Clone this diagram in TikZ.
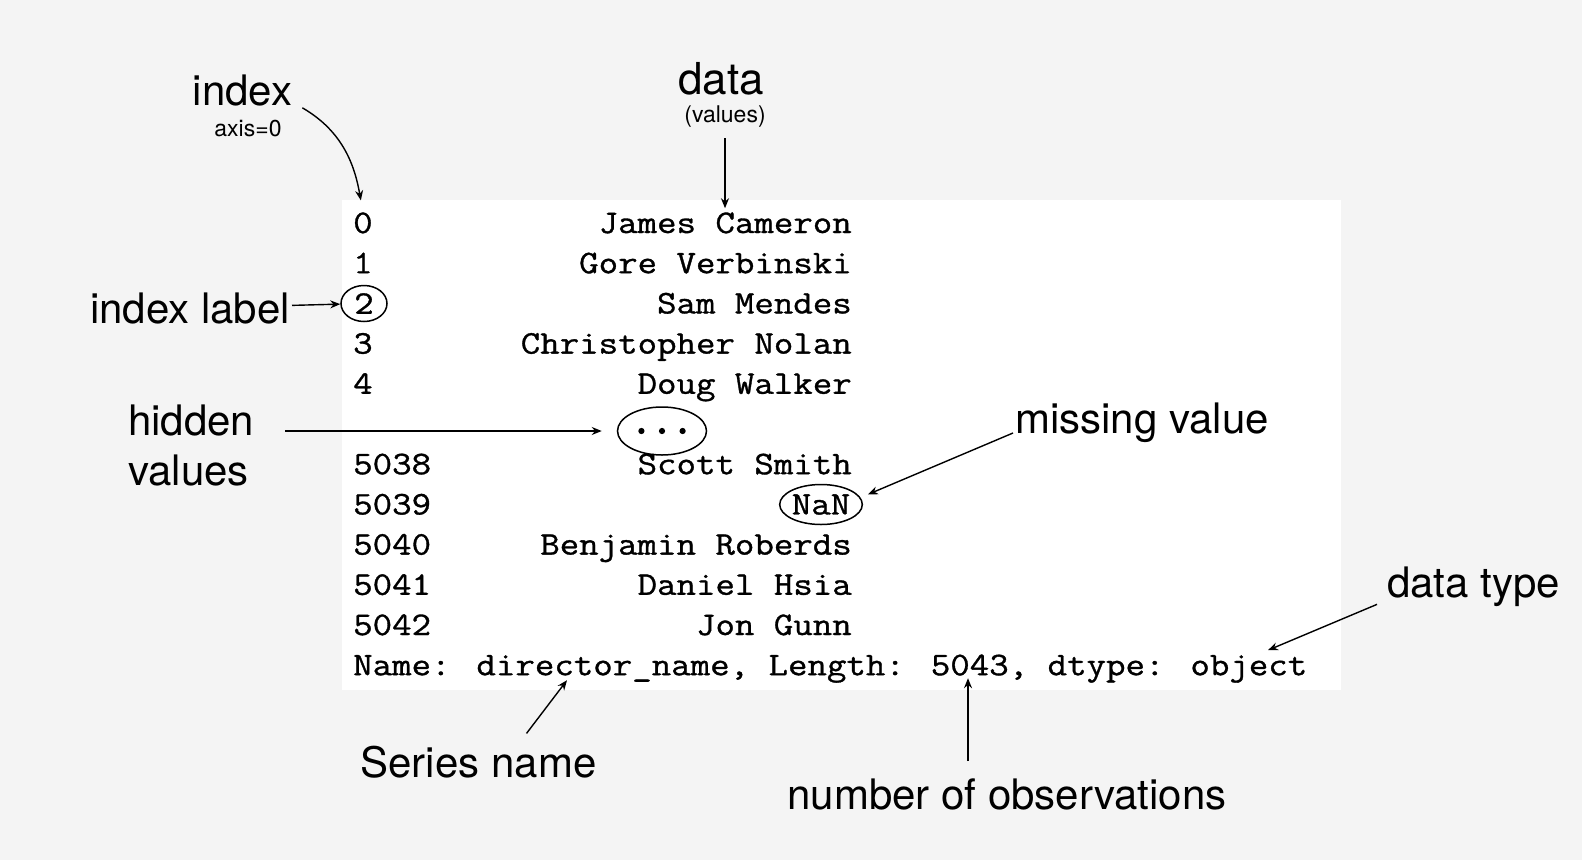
\documentclass[tikz,border=0pt]{standalone}
\usepackage{fontspec}
\setsansfont{TeX Gyre Heros}
\newfontfamily\codefont{Latin Modern Mono}[FakeStretch=1.1457,FakeBold=1]
\newfontfamily\dotfont{Latin Modern Mono}[FakeBold=4]
\usepackage{tikz}
\usetikzlibrary{arrows.meta,positioning,shapes.geometric}
\definecolor{pagegrey}{HTML}{F4F4F4}
\tikzstyle{codetxt}=[font=\fontsize{33}{40}\selectfont\codefont,inner sep=0pt]
\tikzstyle{lbl}=[font=\fontsize{42}{50}\selectfont\sffamily,inner sep=2pt]
\tikzstyle{sublbl}=[font=\fontsize{23}{26}\selectfont\sffamily,inner sep=2pt]
\tikzstyle{ring}=[draw,ellipse,line width=1.5pt]
\tikzstyle{every edge}=[draw,line width=1.4pt,>={Stealth[length=10pt,width=8pt]}]

\begin{document}
\begin{tikzpicture}[x=1pt,y=-1pt]
  \useasboundingbox (0,0) rectangle (1582,860);
  \fill[pagegrey] (0,0) rectangle (1582,860);
  \fill[white] (342,200) rectangle (1341,690);

  % index column
  \node[codetxt,anchor=base west] (i0) at (353,233) {0};
  \node[codetxt,anchor=base west] (i1) at (353,273.2) {1};
  \node[codetxt,ring,minimum width=46pt,minimum height=36pt] (i2) at (364,303.5) {2};
  \node[codetxt,anchor=base west] (i3) at (353,353.6) {3};
  \node[codetxt,anchor=base west] (i4) at (353,393.8) {4};
  \node[codetxt,anchor=base west] (i5038) at (353,474.2) {5038};
  \node[codetxt,anchor=base west] (i5039) at (353,514.4) {5039};
  \node[codetxt,anchor=base west] (i5040) at (353,554.6) {5040};
  \node[codetxt,anchor=base west] (i5041) at (353,594.8) {5041};
  \node[codetxt,anchor=base west] (i5042) at (353,635) {5042};

  % values column
  \node[codetxt,anchor=base east] (v0) at (852,233) {James Cameron};
  \node[codetxt,anchor=base east] (v1) at (852,273.2) {Gore Verbinski};
  \node[codetxt,anchor=base east] (v2) at (852,313.4) {Sam Mendes};
  \node[codetxt,anchor=base east] (v3) at (852,353.6) {Christopher Nolan};
  \node[codetxt,anchor=base east] (v4) at (852,393.8) {Doug Walker};
  \node[codetxt,ring,font=\fontsize{40}{40}\selectfont\dotfont,minimum width=89pt,minimum height=48pt] (dots) at (662,431) {...};
  \node[codetxt,anchor=base east] (v5038) at (852,474.2) {Scott Smith};
  \node[codetxt,ring,minimum width=78pt,minimum height=40pt] (nan) at (821,504.5) {NaN};
  \node[codetxt,anchor=base east] (v5040) at (852,554.6) {Benjamin Roberds};
  \node[codetxt,anchor=base east] (v5041) at (852,594.8) {Daniel Hsia};
  \node[codetxt,anchor=base east] (v5042) at (852,635) {Jon Gunn};
  \node[codetxt,anchor=base west] (foot) at (353,675.2) {Name: director\_name, Length: 5043, dtype: object};

  % points in the footer line
  \coordinate (serpt) at ([xshift=214pt,yshift=-5pt]foot.base west);
  \coordinate (lenpt) at ([xshift=615pt,yshift=-3pt]foot.base west);
  \coordinate (dtpt) at ([xshift=915pt,yshift=25pt]foot.base west);

  % labels
  \node[lbl,anchor=base] (idx) at (242.5,105) {index};
  \node[sublbl,anchor=base] (axis) at (248,136) {axis=0};
  \node[lbl,font=\fontsize{44}{48}\selectfont\sffamily,anchor=base] (dat) at (721,94) {data};
  \node[sublbl,anchor=base] (vals) at (725,122) {(values)};
  \node[lbl,anchor=base east] (ilbl) at (292,323) {index label};
  \node[lbl,anchor=west,align=left] (hid) at (126,445) {hidden\\values};
  \node[lbl,anchor=base west] (mis) at (1013,433) {missing value};
  \node[lbl,anchor=base west] (dtype) at (1385,597) {data type};
  \node[lbl,anchor=base] (ser) at (478.5,777) {Series name};
  \node[lbl,anchor=base] (nobs) at (1007,809) {number of observations};

  \path[->] ([xshift=8pt]idx.south east) edge[out=-30,in=100,shorten >=12pt] (i0.north)
    (vals.south) edge[shorten <=9pt,shorten >=4pt] (vals.south |- v0.north)
    (ilbl) edge (i2)
    (hid.east |- dots.west) edge[shorten <=29pt,shorten >=15pt] (dots.west)
    (mis.base west) edge[shorten >=8pt] (nan.10)
    ([xshift=-8pt,yshift=4pt]dtype.south west) edge (dtpt)
    ([xshift=48pt,yshift=10pt]ser.north) edge (serpt)
    (nobs.north -| lenpt) edge[shorten <=15pt] (lenpt);
\end{tikzpicture}
\end{document}
